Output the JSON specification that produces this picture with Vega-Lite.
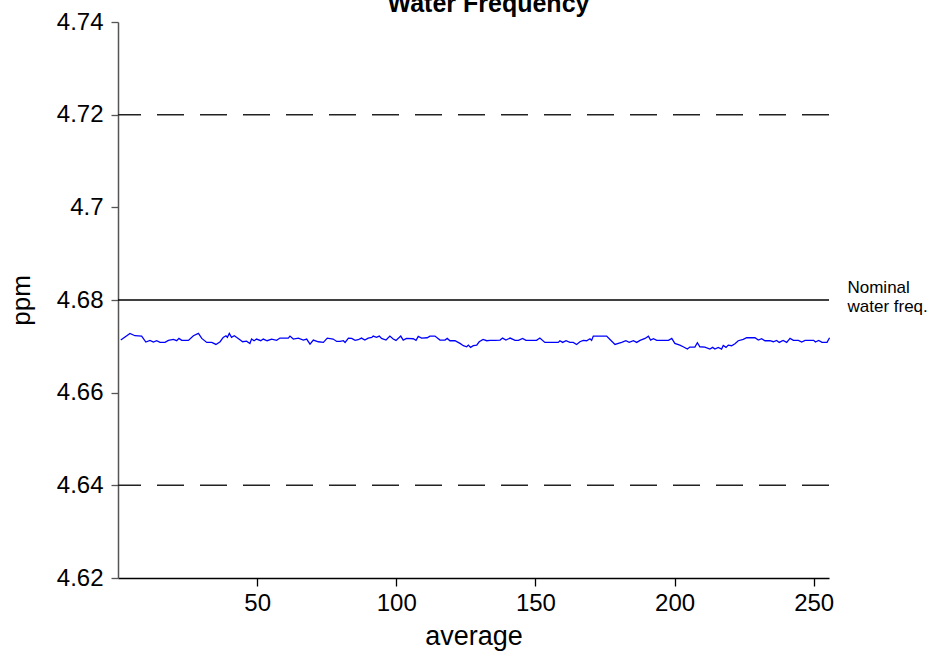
{
  "$schema": "https://vega.github.io/schema/vega-lite/v6.json",
  "width": 711,
  "height": 556,
  "autosize": {"type": "none"},
  "padding": {"left": 118, "top": 22, "right": 122, "bottom": 86},
  "background": "white",
  "config": {
    "view": {"stroke": null},
    "font": "Liberation Sans",
    "axis": {"grid": false, "labelFont": "Liberation Sans", "titleFont": "Liberation Sans", "labelColor": "black", "titleColor": "black"}
  },
  "title": {
    "text": "Water Frequency",
    "font": "Liberation Sans",
    "fontSize": 25,
    "fontWeight": "bold",
    "color": "black",
    "anchor": "middle",
    "dx": 15,
    "dy": 27,
    "offset": 0,
    "baseline": "alphabetic"
  },
  "datasets": {
    "series": [
      {"x": 1, "v": 4.67135}, {"x": 4.3, "v": 4.67279}, {"x": 6.1, "v": 4.67229}, {"x": 8.5, "v": 4.67221},
      {"x": 10, "v": 4.67092}, {"x": 11.5, "v": 4.67128}, {"x": 12.7, "v": 4.67092}, {"x": 13.9, "v": 4.67121},
      {"x": 15.1, "v": 4.67085}, {"x": 16.9, "v": 4.67085}, {"x": 18.1, "v": 4.67128}, {"x": 19.9, "v": 4.67149},
      {"x": 21.1, "v": 4.67121}, {"x": 21.9, "v": 4.67171}, {"x": 22.9, "v": 4.67128}, {"x": 25.3, "v": 4.67128},
      {"x": 27.1, "v": 4.67229}, {"x": 28.9, "v": 4.67279}, {"x": 30.1, "v": 4.67171}, {"x": 31.9, "v": 4.67085},
      {"x": 33.7, "v": 4.67085}, {"x": 35.2, "v": 4.67041}, {"x": 36.7, "v": 4.67099}, {"x": 37.8, "v": 4.67193},
      {"x": 38.8, "v": 4.67229}, {"x": 39.3, "v": 4.67193}, {"x": 40, "v": 4.67279}, {"x": 40.8, "v": 4.67193},
      {"x": 41.8, "v": 4.67229}, {"x": 43.2, "v": 4.67171}, {"x": 44.8, "v": 4.67099}, {"x": 46.2, "v": 4.67113},
      {"x": 47.4, "v": 4.67063}, {"x": 48, "v": 4.67157}, {"x": 48.9, "v": 4.67121}, {"x": 49.8, "v": 4.67157},
      {"x": 51.3, "v": 4.67121}, {"x": 52.2, "v": 4.67157}, {"x": 53.6, "v": 4.67121}, {"x": 55.2, "v": 4.67157},
      {"x": 57, "v": 4.67128}, {"x": 58.2, "v": 4.67178}, {"x": 61.2, "v": 4.67178}, {"x": 61.8, "v": 4.67221},
      {"x": 63, "v": 4.67157}, {"x": 64.8, "v": 4.67178}, {"x": 66.6, "v": 4.67135}, {"x": 67.8, "v": 4.67157},
      {"x": 69, "v": 4.67049}, {"x": 70.2, "v": 4.67135}, {"x": 72, "v": 4.67099}, {"x": 73.8, "v": 4.67085},
      {"x": 75.2, "v": 4.67178}, {"x": 77.3, "v": 4.67157}, {"x": 78.6, "v": 4.67106}, {"x": 79.8, "v": 4.67106},
      {"x": 81, "v": 4.67121}, {"x": 81.6, "v": 4.67085}, {"x": 82.8, "v": 4.67178}, {"x": 84, "v": 4.67171},
      {"x": 85.2, "v": 4.67128}, {"x": 86.3, "v": 4.67142}, {"x": 87.5, "v": 4.67178}, {"x": 88.7, "v": 4.67135},
      {"x": 89.9, "v": 4.67178}, {"x": 91.2, "v": 4.67193}, {"x": 91.7, "v": 4.67221}, {"x": 92.9, "v": 4.67193},
      {"x": 93.9, "v": 4.67221}, {"x": 94.7, "v": 4.67171}, {"x": 96.3, "v": 4.67135}, {"x": 97.7, "v": 4.67221},
      {"x": 98.9, "v": 4.67157}, {"x": 99.9, "v": 4.67128}, {"x": 101.6, "v": 4.67221}, {"x": 102.5, "v": 4.67135},
      {"x": 103.7, "v": 4.67171}, {"x": 106.1, "v": 4.67164}, {"x": 107.1, "v": 4.67128}, {"x": 107.9, "v": 4.67214},
      {"x": 109.1, "v": 4.67178}, {"x": 111.1, "v": 4.67185}, {"x": 112.1, "v": 4.67221}, {"x": 113.9, "v": 4.67221},
      {"x": 115.7, "v": 4.67135}, {"x": 117.5, "v": 4.67135}, {"x": 118.3, "v": 4.67171}, {"x": 119.3, "v": 4.67121},
      {"x": 121.1, "v": 4.67121}, {"x": 122.9, "v": 4.67063}, {"x": 124.1, "v": 4.67013}, {"x": 125.3, "v": 4.66991},
      {"x": 125.9, "v": 4.67027}, {"x": 126.7, "v": 4.66977}, {"x": 127.7, "v": 4.67013}, {"x": 128.9, "v": 4.67027},
      {"x": 129.8, "v": 4.67099}, {"x": 131.2, "v": 4.67149}, {"x": 132.5, "v": 4.67121}, {"x": 133.7, "v": 4.67128},
      {"x": 135.5, "v": 4.67128}, {"x": 137.3, "v": 4.67135}, {"x": 138.2, "v": 4.67178}, {"x": 139.4, "v": 4.67135},
      {"x": 140.9, "v": 4.67178}, {"x": 142.7, "v": 4.67128}, {"x": 143.9, "v": 4.67128}, {"x": 145.4, "v": 4.67171},
      {"x": 146.6, "v": 4.67128}, {"x": 148.7, "v": 4.67128}, {"x": 150.4, "v": 4.67128}, {"x": 151.6, "v": 4.67178},
      {"x": 153.4, "v": 4.67085}, {"x": 156.4, "v": 4.67085}, {"x": 158.2, "v": 4.67085}, {"x": 158.8, "v": 4.67121},
      {"x": 159.8, "v": 4.67085}, {"x": 161, "v": 4.67121}, {"x": 162.4, "v": 4.67085}, {"x": 163.6, "v": 4.67085},
      {"x": 164.8, "v": 4.67041}, {"x": 166, "v": 4.67099}, {"x": 167.2, "v": 4.67128}, {"x": 168.4, "v": 4.67121},
      {"x": 169.6, "v": 4.67164}, {"x": 170.2, "v": 4.67128}, {"x": 170.8, "v": 4.67221}, {"x": 173.2, "v": 4.67221},
      {"x": 175.6, "v": 4.67221}, {"x": 176.8, "v": 4.67149}, {"x": 178.6, "v": 4.67041}, {"x": 179.8, "v": 4.67063},
      {"x": 181, "v": 4.67085}, {"x": 182.5, "v": 4.67121}, {"x": 183.7, "v": 4.67085}, {"x": 185.2, "v": 4.67121},
      {"x": 186.4, "v": 4.67085}, {"x": 187.6, "v": 4.67128}, {"x": 189.4, "v": 4.67171}, {"x": 190.6, "v": 4.67221},
      {"x": 191.4, "v": 4.67135}, {"x": 192.4, "v": 4.67164}, {"x": 193.6, "v": 4.67128}, {"x": 196, "v": 4.67128},
      {"x": 197.8, "v": 4.67128}, {"x": 199, "v": 4.67171}, {"x": 200.1, "v": 4.67063}, {"x": 201.9, "v": 4.67027},
      {"x": 203.1, "v": 4.66991}, {"x": 204.6, "v": 4.66941}, {"x": 205.5, "v": 4.66984}, {"x": 207.3, "v": 4.66984},
      {"x": 208.2, "v": 4.67077}, {"x": 209.1, "v": 4.66991}, {"x": 210.9, "v": 4.66984}, {"x": 212.7, "v": 4.66941},
      {"x": 213.7, "v": 4.66977}, {"x": 214.5, "v": 4.66941}, {"x": 215.7, "v": 4.66977}, {"x": 216.9, "v": 4.66941},
      {"x": 217.5, "v": 4.6702}, {"x": 218.5, "v": 4.66977}, {"x": 219.3, "v": 4.67027}, {"x": 220.5, "v": 4.67013},
      {"x": 221.7, "v": 4.67056}, {"x": 222.9, "v": 4.67121}, {"x": 224.7, "v": 4.67149}, {"x": 225.9, "v": 4.67185},
      {"x": 228.9, "v": 4.67185}, {"x": 230.1, "v": 4.67135}, {"x": 231.3, "v": 4.67164}, {"x": 232.5, "v": 4.67121},
      {"x": 234.3, "v": 4.67121}, {"x": 235.5, "v": 4.67099}, {"x": 236.7, "v": 4.67128}, {"x": 237.6, "v": 4.67085},
      {"x": 239, "v": 4.67128}, {"x": 240.3, "v": 4.67085}, {"x": 241.5, "v": 4.67171}, {"x": 242.7, "v": 4.67128},
      {"x": 244.5, "v": 4.67128}, {"x": 245.7, "v": 4.67092}, {"x": 246.9, "v": 4.67128}, {"x": 248.7, "v": 4.67128},
      {"x": 250, "v": 4.67128}, {"x": 250.6, "v": 4.67092}, {"x": 251.8, "v": 4.67128}, {"x": 253, "v": 4.67085},
      {"x": 254.8, "v": 4.67085}, {"x": 255.7, "v": 4.67185}
    ],
    "limits": [{"v": 4.72}, {"v": 4.64}],
    "nominal": [{"v": 4.68, "x": 262.5, "label": "Nominal\nwater freq."}]
  },
  "layer": [
    {
      "data": {"name": "series"},
      "mark": {"type": "line", "color": "#0000ff", "strokeWidth": 1.3, "interpolate": "linear"},
      "encoding": {
        "x": {
          "field": "x", "type": "quantitative", "title": "average",
          "scale": {"domain": [0, 255.5], "nice": false, "zero": false},
          "axis": {
            "values": [50, 100, 150, 200, 250],
            "labelFontSize": 24, "titleFontSize": 27, "titleFontWeight": "normal",
            "tickSize": 8, "labelPadding": 5, "titlePadding": 8,
            "domainColor": "black", "tickColor": "black", "domainWidth": 1.3, "tickWidth": 1.3
          }
        },
        "y": {
          "field": "v", "type": "quantitative", "title": "ppm",
          "scale": {"domain": [4.62, 4.74], "nice": false, "zero": false},
          "axis": {
            "values": [4.62, 4.64, 4.66, 4.68, 4.7, 4.72, 4.74], "format": "~g",
            "labelFontSize": 24, "titleFontSize": 26, "titleFontWeight": "normal",
            "tickSize": 7, "labelPadding": 8, "titlePadding": 22,
            "domainColor": "#555555", "tickColor": "#555555", "domainWidth": 1.5, "tickWidth": 1.3
          }
        }
      }
    },
    {
      "data": {"name": "limits"},
      "mark": {"type": "rule", "strokeDash": [27, 16], "color": "#222222", "strokeWidth": 1.5},
      "encoding": {
        "y": {"field": "v", "type": "quantitative", "title": "ppm"}
      }
    },
    {
      "data": {"name": "nominal"},
      "mark": {"type": "rule", "color": "black", "strokeWidth": 1.3},
      "encoding": {
        "y": {"field": "v", "type": "quantitative", "title": "ppm"}
      }
    },
    {
      "data": {"name": "nominal"},
      "mark": {"type": "text", "align": "left", "baseline": "middle", "fontSize": 17, "lineBreak": "\n", "lineHeight": 19, "dy": -12, "dx": -1, "color": "black", "font": "Liberation Sans"},
      "encoding": {
        "x": {"field": "x", "type": "quantitative", "title": "average"},
        "y": {"field": "v", "type": "quantitative", "title": "ppm"},
        "text": {"field": "label"}
      }
    }
  ]
}
